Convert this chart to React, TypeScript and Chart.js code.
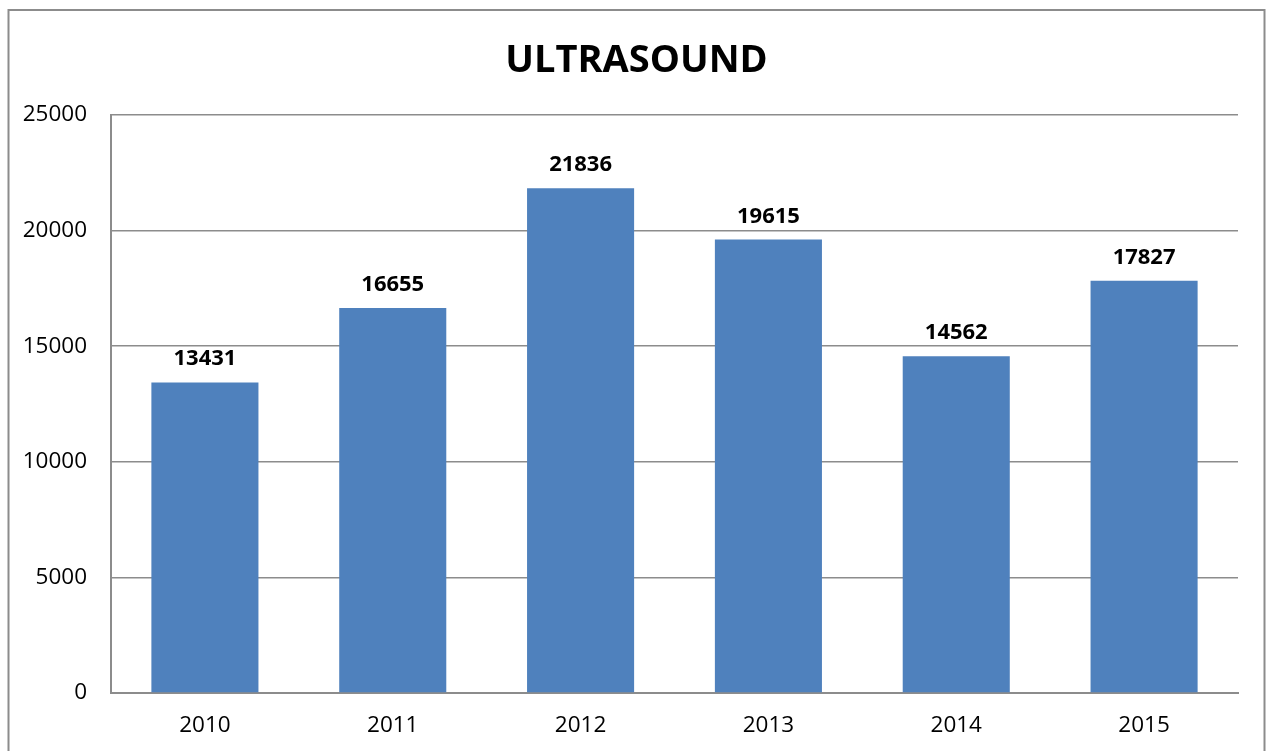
import React, { useEffect, useRef } from "react";
import { Chart, registerables } from "chart.js";

Chart.register(...registerables);

const categories = ["2010", "2011", "2012", "2013", "2014", "2015"];
const values = [13431, 16655, 21836, 19615, 14562, 17827];
const chartTitle = "ULTRASOUND";
const yMin = 0;
const yMax = 25000;
const yStep = 5000;

const FONT = "'Open Sans', 'Noto Sans', sans-serif";

const framePlugin = {
  id: "frame",
  beforeDraw(chart: any) {
    const ctx = chart.ctx;
    ctx.save();
    ctx.fillStyle = "#ffffff";
    ctx.fillRect(0, 0, chart.width, chart.height);
    ctx.strokeStyle = "#8c8c8c";
    ctx.lineWidth = 2;
    ctx.strokeRect(8.5, 10, 1256, 780);
    ctx.font = `bold 38px ${FONT}`;
    ctx.fillStyle = "#000000";
    ctx.textAlign = "center";
    ctx.textBaseline = "alphabetic";
    ctx.fillText(chartTitle, 636.5, 71.5);
    ctx.restore();
  },
};

const labelPlugin = {
  id: "barLabels",
  afterDatasetsDraw(chart: any) {
    const ctx = chart.ctx;
    const meta = chart.getDatasetMeta(0);
    ctx.save();
    ctx.font = `bold 22px ${FONT}`;
    ctx.fillStyle = "#000000";
    ctx.textAlign = "center";
    ctx.textBaseline = "alphabetic";
    meta.data.forEach((bar: any, i: number) => {
      ctx.fillText(String(chart.data.datasets[0].data[i]), bar.x, bar.y - 17);
    });
    ctx.restore();
  },
};

export default function App() {
  const ref = useRef<HTMLCanvasElement>(null);
  useEffect(() => {
    if (!ref.current) return;
    const chart = new Chart(ref.current, {
      type: "bar",
      data: {
        labels: categories,
        datasets: [
          {
            data: values,
            backgroundColor: "#4F81BD",
            borderWidth: 0,
            categoryPercentage: 1,
            barPercentage: 0.57,
          },
        ],
      },
      options: {
        animation: false,
        responsive: false,
        layout: { padding: { left: 0, right: 33, top: 115, bottom: 0 } },
        plugins: {
          legend: { display: false },
          tooltip: { enabled: false },
          title: { display: false },
        },
        scales: {
          x: {
            grid: { display: false, drawTicks: false },
            border: { display: true, color: "#8c8c8c", width: 2 },
            ticks: {
              color: "#000000",
              font: { family: FONT, size: 22.5 },
              padding: 19,
            },
            afterFit(scale: any) {
              scale.height = 58;
            },
          },
          y: {
            min: yMin,
            max: yMax,
            ticks: {
              stepSize: yStep,
              color: "#000000",
              font: { family: FONT, size: 22.5 },
              padding: 24,
              callback: (v: any) => String(v),
            },
            grid: { color: "#8c8c8c", lineWidth: 1.5, drawTicks: false },
            border: { display: true, color: "#8c8c8c", width: 2 },
            afterFit(scale: any) {
              scale.width = 111;
            },
          },
        },
      },
      plugins: [framePlugin, labelPlugin],
    });
    return () => chart.destroy();
  }, []);
  return (
    <div style={{ position: "fixed", left: 0, top: 0, width: 1271, height: 751, background: "#fff" }}>
      <canvas ref={ref} width={1271} height={751} style={{ display: "block" }} />
    </div>
  );
}
